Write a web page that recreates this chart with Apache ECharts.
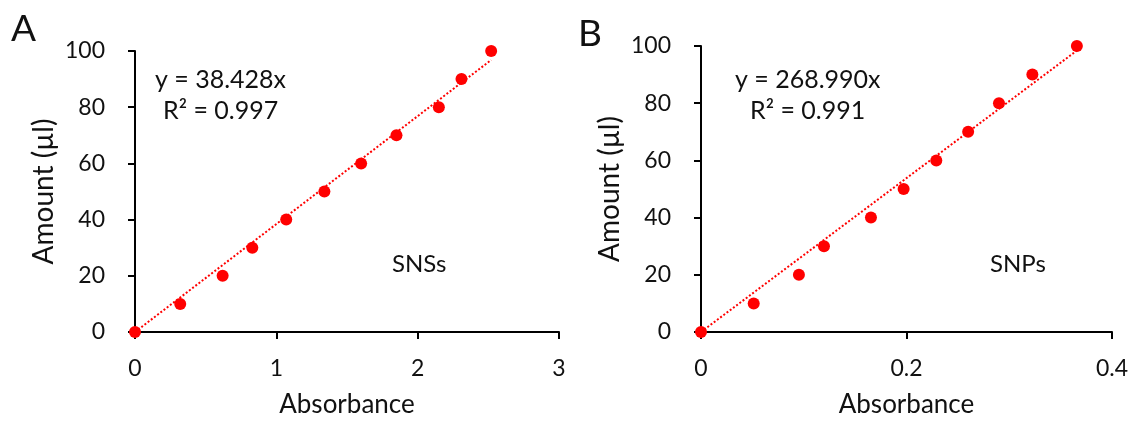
<!DOCTYPE html>
<html>
<head>
<meta charset="utf-8">
<script src="https://cdn.jsdelivr.net/npm/echarts@6/dist/echarts.min.js"></script>
<style>
  html, body { margin: 0; padding: 0; background: #fff; }
  #chart { width: 1133px; height: 421px; }
</style>
</head>
<body>
<div id="chart"></div>
<script>
// SNSs 数据 (panel A)
var snsAbs = [0, 0.32, 0.62, 0.83, 1.07, 1.34, 1.60, 1.85, 2.15, 2.31, 2.52];
var snsAmount = [0, 10, 20, 30, 40, 50, 60, 70, 80, 90, 100];
var snsTrend = [[0, 0], [2.52, 96.8]];

// SNPs 数据 (panel B)
var snpAbs = [0, 0.0513, 0.0953, 0.1197, 0.1654, 0.1972, 0.229, 0.260, 0.290, 0.3225, 0.3658];
var snpAmount = [0, 10, 20, 30, 40, 50, 60, 70, 80, 90, 100];
var snpTrend = [[0, 0], [0.3658, 98.4]];

var FONT = 'Lato, "Open Sans", sans-serif';
var red = '#ff0000';
var ink = '#111';

function pairs(xs, ys) {
    return xs.map(function (x, i) { return [x, ys[i]]; });
}

function xAxisOpt(idx, max, interval) {
    return {
        type: 'value', gridIndex: idx, min: 0, max: max, interval: interval,
        name: 'Absorbance', nameLocation: 'middle', nameGap: 60, nameMoveOverlap: false,
        nameTextStyle: { fontFamily: FONT, fontSize: 26, color: ink },
        axisLine: { lineStyle: { color: '#000', width: 2 } },
        axisTick: { length: 7, lineStyle: { color: '#000', width: 2 } },
        axisLabel: { margin: 25, fontFamily: FONT, fontSize: 23, color: ink },
        splitLine: { show: false }
    };
}

function yAxisOpt(idx) {
    return {
        type: 'value', gridIndex: idx, min: 0, max: 100, interval: 20,
        name: 'Amount (µl)', nameLocation: 'middle', nameGap: 77, nameMoveOverlap: false,
        nameTextStyle: { fontFamily: FONT, fontSize: 28, color: ink },
        axisLine: { show: true, lineStyle: { color: '#000', width: 2 } },
        axisTick: { show: true, length: 7, lineStyle: { color: '#000', width: 2 } },
        axisLabel: { margin: 30, fontFamily: FONT, fontSize: 23, color: ink },
        splitLine: { show: false }
    };
}

var chart = echarts.init(document.getElementById('chart'));

chart.setOption({
    animation: false,
    grid: [
        { left: 135, top: 51, width: 424, height: 281, outerBoundsMode: 'none' },
        { left: 701, top: 46, width: 411, height: 286, outerBoundsMode: 'none' }
    ],
    xAxis: [xAxisOpt(0, 3, 1), xAxisOpt(1, 0.4, 0.2)],
    yAxis: [yAxisOpt(0), yAxisOpt(1)],
    series: [
        {
            type: 'line', xAxisIndex: 0, yAxisIndex: 0, data: snsTrend,
            showSymbol: false, z: 1,
            lineStyle: { color: red, width: 2, type: 'dotted' }
        },
        {
            type: 'scatter', xAxisIndex: 0, yAxisIndex: 0, data: pairs(snsAbs, snsAmount),
            symbolSize: 12, z: 3, itemStyle: { color: red, opacity: 1 }
        },
        {
            type: 'line', xAxisIndex: 1, yAxisIndex: 1, data: snpTrend,
            showSymbol: false, z: 1,
            lineStyle: { color: red, width: 2, type: 'dotted' }
        },
        {
            type: 'scatter', xAxisIndex: 1, yAxisIndex: 1, data: pairs(snpAbs, snpAmount),
            symbolSize: 12, z: 3, itemStyle: { color: red, opacity: 1 }
        }
    ],
    graphic: [
        { type: 'text', left: 11, top: 11, style: { text: 'A', font: '37px ' + FONT, fill: ink } },
        { type: 'text', left: 578, top: 16, style: { text: 'B', font: '37px ' + FONT, fill: ink } },
        { type: 'text', left: 155, top: 67, style: { text: 'y = 38.428x', font: '25px ' + FONT, fill: ink } },
        { type: 'text', left: 163, top: 98, style: { text: 'R² = 0.997', font: '25px ' + FONT, fill: ink } },
        { type: 'text', left: 735, top: 67, style: { text: 'y = 268.990x', font: '25px ' + FONT, fill: ink } },
        { type: 'text', left: 750, top: 98, style: { text: 'R² = 0.991', font: '25px ' + FONT, fill: ink } },
        { type: 'text', left: 392, top: 252, style: { text: 'SNSs', font: '24px ' + FONT, fill: ink } },
        { type: 'text', left: 990, top: 252, style: { text: 'SNPs', font: '24px ' + FONT, fill: ink } }
    ]
});
</script>
</body>
</html>
